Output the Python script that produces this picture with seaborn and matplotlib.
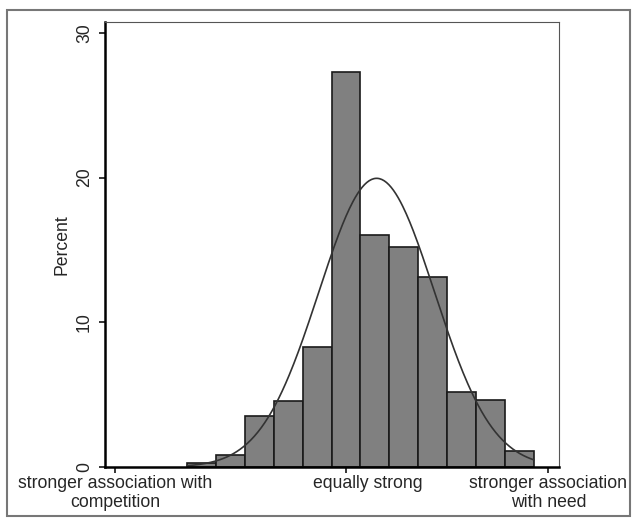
import numpy as np
import pandas as pd
import matplotlib
matplotlib.use("Agg")
import matplotlib.pyplot as plt
import matplotlib.transforms as mtransforms
import seaborn as sns

# ─── Data ────────────────────────────────────────────────────────────────────
# bins of width 1 centred on the integer scores
scores = [-5, -4, -3, -2, -1, 0, 1, 2, 3, 4, 5, 6]
percents = [0.3, 0.8, 3.5, 4.55, 8.3, 27.3, 16.0, 15.2, 13.1, 5.2, 4.6, 1.1]
normal_mean = 1.06
normal_sd = 2.0

tick_pos = [-8, 0, 7]
tick_labels = ["stronger association with\ncompetition", "equally strong",
               "stronger association\nwith need"]
y_ticks = [0, 10, 20, 30]

sns.set_style("white")
plt.rcParams["font.family"] = ["Liberation Sans", "DejaVu Sans"]

edges = [s - 0.5 for s in scores] + [scores[-1] + 0.5]
df = pd.DataFrame({"score": scores, "pct": percents})

fig = plt.figure(figsize=(6.33, 5.18), dpi=100)
ax = fig.add_axes([104.7 / 633, 51 / 518, 454.3 / 633, 445 / 518])

sns.histplot(data=df, x="score", weights="pct", bins=edges, ax=ax,
             color="#808080", edgecolor="#1a1a1a", linewidth=1.2, alpha=1)

# normal density scaled to percent per unit-width bin
xs = np.linspace(edges[0], edges[-1], 300)
dens = 100 * np.exp(-0.5 * ((xs - normal_mean) / normal_sd) ** 2) / (normal_sd * np.sqrt(2 * np.pi))
ax.plot(xs, dens, color="#333333", linewidth=1.2)

ax.set_xlim(-8.35, 7.37)
ax.set_ylim(0, 30.75)
ax.set_xticks(tick_pos)
ax.set_xticklabels(tick_labels, fontsize=12.7, linespacing=1.15)
ax.set_yticks(y_ticks)
ax.set_yticklabels([str(v) for v in y_ticks], fontsize=12.7, rotation=90, va="center")
ax.set_ylabel("Percent", fontsize=12.7, labelpad=4)
ax.set_xlabel("")

ax.tick_params(axis="both", direction="out", length=4.5, width=1.1, color="black",
               bottom=True, left=True)
ax.tick_params(axis="x", pad=1)
ax.tick_params(axis="y", pad=4)

# middle label sits a little right of its tick in the original
mid = ax.get_xticklabels()[1]
mid.set_transform(mid.get_transform() + mtransforms.ScaledTranslation(0.22, 0, fig.dpi_scale_trans))

for side in ["left", "bottom"]:
    ax.spines[side].set_linewidth(1.8)
    ax.spines[side].set_color("black")
for side in ["top", "right"]:
    ax.spines[side].set_visible(True)
    ax.spines[side].set_linewidth(0.8)
    ax.spines[side].set_color("#555555")

# outer frame
fig.patches.append(plt.Rectangle((7 / 633, 0.004), 1 - 7 / 633 - 0.004, 1 - 0.004 - 10 / 518,
                                 transform=fig.transFigure,
                                 fill=False, edgecolor="#777777", linewidth=1.5))

fig.savefig("out.png", dpi=100)
